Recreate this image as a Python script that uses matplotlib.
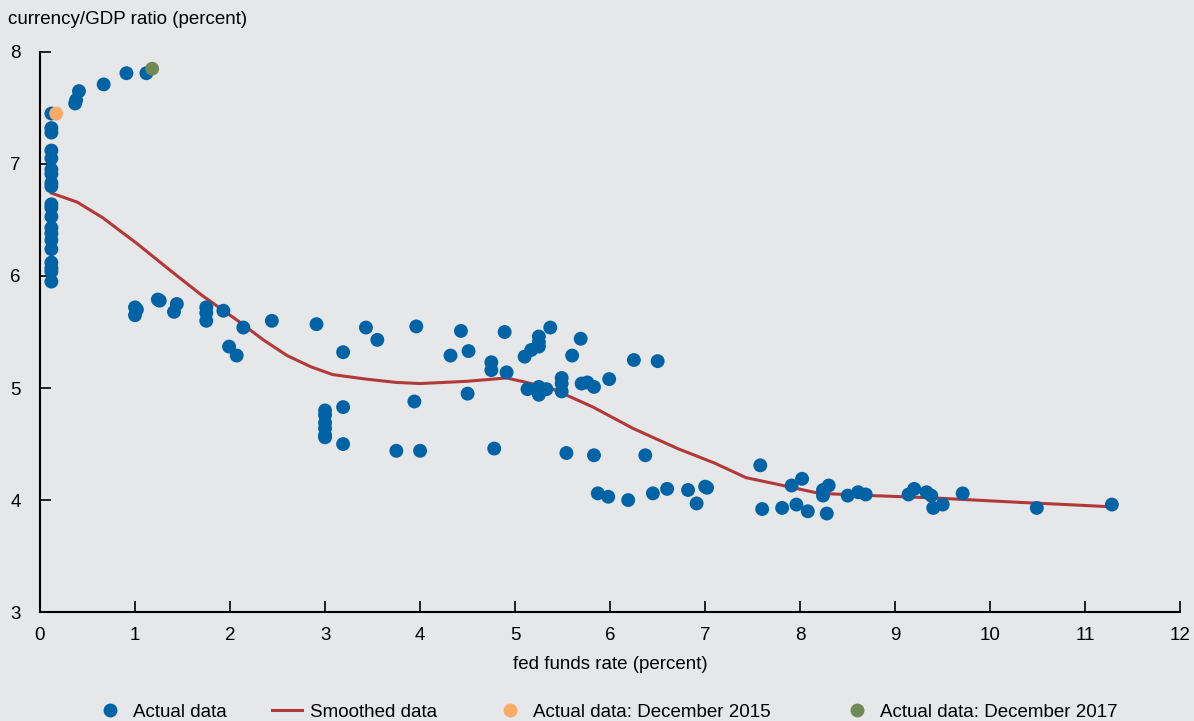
import matplotlib.pyplot as plt
import matplotlib.lines as mlines

plt.rcParams['font.family'] = ['Liberation Sans', 'DejaVu Sans']

# monthly observations: fed funds rate vs currency/GDP ratio
fed_rate = [
    0.12, 0.12, 0.12, 0.12, 0.12, 0.12, 0.12, 0.12, 0.12, 0.12,
    0.12, 0.12, 0.12, 0.12, 0.12, 0.12, 0.12, 0.12, 0.12, 0.12,
    0.38, 0.37, 0.41, 0.67, 0.91, 1.12,
    1.00, 1.02, 1.00, 1.24, 1.26, 1.44, 1.41, 1.75, 1.75, 1.75,
    1.93, 2.14, 1.99, 2.07, 2.44, 2.91, 3.19, 3.43, 3.55,
    3.00, 3.00, 3.00, 3.00, 3.00, 3.00,
    3.19, 3.19, 3.75, 3.96, 4.43, 4.32, 4.51, 4.89, 4.75, 4.75,
    4.91, 5.10, 5.17, 5.25, 5.25, 5.25, 5.37, 5.69, 5.60, 6.25,
    6.50, 5.13, 5.25, 5.25, 5.33, 5.49, 5.49, 5.49, 5.70, 5.76,
    5.83, 5.99, 4.50, 3.94, 4.00, 4.78, 5.54, 5.83, 6.37,
    5.87, 5.98, 6.19, 6.45, 6.60, 6.82, 7.00, 7.02, 6.91, 7.58,
    7.91, 8.02, 7.60, 7.81, 7.96, 8.08, 8.28, 8.24, 8.30, 8.24,
    8.50, 8.61, 8.69, 9.14, 9.20, 9.33, 9.38, 9.40, 9.50, 9.71,
    10.49, 11.28,
]
currency_gdp = [
    7.45, 7.32, 7.28, 7.12, 7.05, 6.95, 6.91, 6.83, 6.80, 6.64,
    6.61, 6.53, 6.43, 6.38, 6.32, 6.24, 6.12, 6.07, 6.04, 5.95,
    7.57, 7.54, 7.65, 7.71, 7.81, 7.81,
    5.72, 5.70, 5.65, 5.79, 5.78, 5.75, 5.68, 5.72, 5.67, 5.60,
    5.69, 5.54, 5.37, 5.29, 5.60, 5.57, 5.32, 5.54, 5.43,
    4.80, 4.76, 4.69, 4.64, 4.58, 4.56,
    4.83, 4.50, 4.44, 5.55, 5.51, 5.29, 5.33, 5.50, 5.23, 5.16,
    5.14, 5.28, 5.34, 5.46, 5.41, 5.37, 5.54, 5.44, 5.29, 5.25,
    5.24, 4.99, 5.01, 4.94, 4.99, 5.09, 5.04, 4.97, 5.04, 5.05,
    5.01, 5.08, 4.95, 4.88, 4.44, 4.46, 4.42, 4.40, 4.40,
    4.06, 4.03, 4.00, 4.06, 4.10, 4.09, 4.12, 4.11, 3.97, 4.31,
    4.13, 4.19, 3.92, 3.93, 3.96, 3.90, 3.88, 4.09, 4.13, 4.04,
    4.04, 4.07, 4.05, 4.05, 4.10, 4.07, 4.04, 3.93, 3.96, 4.06,
    3.93, 3.96,
]

# smoothed fit
smooth_rate = [0.12, 0.39, 0.66, 1.02, 1.40, 1.70, 2.10, 2.35, 2.60, 2.85,
               3.08, 3.43, 3.75, 4.00, 4.49, 4.91, 5.12, 5.40, 5.82, 6.24,
               6.71, 7.10, 7.43, 7.71, 8.20, 8.76, 9.39, 10.30, 10.80, 11.28]
smooth_gdp = [6.74, 6.66, 6.52, 6.29, 6.03, 5.83, 5.59, 5.43, 5.29, 5.19,
              5.12, 5.08, 5.05, 5.04, 5.06, 5.09, 5.05, 4.99, 4.83, 4.64,
              4.46, 4.33, 4.20, 4.15, 4.06, 4.04, 4.02, 3.98, 3.96, 3.94]

dec2015 = (0.17, 7.45)
dec2017 = (1.18, 7.85)

bg = '#e6e7e9'
blue = '#0063a6'
red = '#b1393a'
orange = '#fbab66'
green = '#6f8a56'
fs = 13.5

fig = plt.figure(figsize=(11.94, 7.21), dpi=100, facecolor=bg)
ax = fig.add_axes([0.0335, 0.151, 0.955, 0.777], facecolor=bg)

ax.plot(smooth_rate, smooth_gdp, color=red, lw=2.2, zorder=2)
ax.scatter(fed_rate, currency_gdp, s=100, color=blue, edgecolors='none', zorder=3)
ax.scatter([dec2015[0]], [dec2015[1]], s=100, color=orange, edgecolors='none', zorder=4)
ax.scatter([dec2017[0]], [dec2017[1]], s=100, color=green, edgecolors='none', zorder=4)

ax.set_xlim(0, 12)
ax.set_ylim(3, 8)
ax.set_xticks(range(0, 13))
ax.set_yticks([3, 4, 5, 6, 7, 8])
for side in ['top', 'right']:
    ax.spines[side].set_visible(False)
for side in ['left', 'bottom']:
    ax.spines[side].set_linewidth(1.5)
ax.tick_params(direction='in', length=8, width=1.2, labelsize=fs, colors='black')
ax.tick_params(axis='y', pad=14)
ax.tick_params(axis='x', pad=11)
ax.set_xlabel('fed funds rate (percent)', fontsize=fs, labelpad=8)

fig.text(0.007, 0.973, 'currency/GDP ratio (percent)', fontsize=fs, va='center', ha='left')

# one legend per entry so each can sit at its own column position
legend_items = [
    (mlines.Line2D([], [], color=blue, marker='o', ls='none', markersize=9), 'Actual data', 95),
    (mlines.Line2D([], [], color=red, lw=2.2), 'Smoothed data', 272),
    (mlines.Line2D([], [], color=orange, marker='o', ls='none', markersize=9), 'Actual data: December 2015', 495),
    (mlines.Line2D([], [], color=green, marker='o', ls='none', markersize=9), 'Actual data: December 2017', 842),
]
for handle, label, x_px in legend_items:
    fig.legend([handle], [label], loc='center left', bbox_to_anchor=(x_px / 1194, 0.012),
               frameon=False, fontsize=fs, handlelength=1.6, handletextpad=0.42,
               borderpad=0, borderaxespad=0)

plt.savefig('out.png', dpi=100, facecolor=bg)
